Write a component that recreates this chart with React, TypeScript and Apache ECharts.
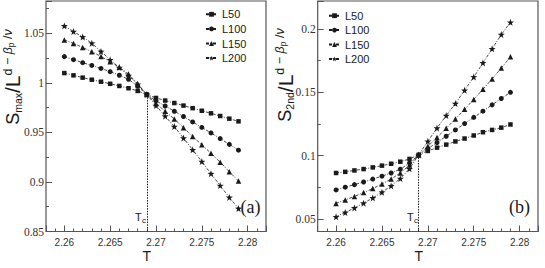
import React, { useEffect, useRef } from "react";
import * as echarts from "echarts";

// ---------- data ----------
const temps = [2.26, 2.261, 2.262, 2.263, 2.264, 2.265, 2.266, 2.267, 2.268, 2.269,
  2.27, 2.271, 2.272, 2.273, 2.274, 2.275, 2.276, 2.277, 2.278, 2.279];
const sizeNames = ["L50", "L100", "L150", "L200"];

const smaxL50 = [1.0098, 1.0075, 1.0052, 1.0031, 1.0011, 0.999, 0.9968, 0.9945, 0.9918, 0.9882,
  0.9847, 0.9821, 0.9796, 0.977, 0.9744, 0.9718, 0.9692, 0.9665, 0.9638, 0.9611];
const smaxL100 = [1.0264, 1.0233, 1.0203, 1.0175, 1.0145, 1.0112, 1.0076, 1.0035, 0.9965, 0.9882,
  0.9818, 0.9766, 0.9713, 0.966, 0.9605, 0.955, 0.9494, 0.9437, 0.9379, 0.932];
const smaxL150 = [1.0432, 1.0397, 1.0356, 1.0313, 1.0265, 1.0212, 1.0156, 1.0088, 0.999, 0.9882,
  0.9792, 0.9712, 0.9635, 0.9547, 0.9458, 0.9374, 0.9289, 0.9199, 0.9103, 0.9009];
const smaxL200 = [1.0574, 1.0517, 1.0462, 1.0399, 1.0316, 1.0232, 1.0153, 1.0072, 0.9985, 0.9882,
  0.977, 0.9663, 0.9558, 0.9442, 0.9324, 0.9205, 0.9083, 0.8963, 0.8844, 0.8732];

const s2ndL50 = [0.0862, 0.0871, 0.0882, 0.0893, 0.0906, 0.092, 0.0935, 0.0951, 0.0973, 0.1005,
  0.1036, 0.1062, 0.1086, 0.1111, 0.1134, 0.1158, 0.1184, 0.1202, 0.122, 0.1245];
const s2ndL100 = [0.0728, 0.075, 0.077, 0.0791, 0.0814, 0.0837, 0.0862, 0.0892, 0.094, 0.1005,
  0.1054, 0.1103, 0.1152, 0.1202, 0.1252, 0.1301, 0.135, 0.14, 0.145, 0.1499];
const s2ndL150 = [0.0622, 0.0649, 0.0677, 0.0707, 0.0739, 0.0775, 0.0815, 0.0862, 0.0925, 0.1005,
  0.1073, 0.1143, 0.1215, 0.1289, 0.1365, 0.1443, 0.1523, 0.1605, 0.169, 0.1779];
const s2ndL200 = [0.0516, 0.055, 0.0586, 0.0624, 0.0665, 0.071, 0.076, 0.0818, 0.0895, 0.1005,
  0.1112, 0.1217, 0.1315, 0.141, 0.1515, 0.162, 0.1731, 0.1842, 0.1955, 0.2052];

const tc = 2.269;
const crossA = 0.988;
const crossB = 0.1005;

const xRange = [2.258, 2.282];
const yRangeA = [0.85, 1.0825];
const yRangeB = [0.04, 0.222];
const xMajor = 0.005;
const xMinor = 0.001;
const yMajor = 0.05;
const yMinor = 0.025;

// ---------- styles ----------
const SANS = "'Liberation Sans', Arial, sans-serif";
const SERIF = "'Liberation Serif', 'Times New Roman', serif";
const INK = "#1a1a1a";
const FRAME = "#555";

const STAR = "path://M0,-10 L2.35,-3.24 L9.51,-3.09 L3.8,1.24 L5.88,8.09 L0,4 L-5.88,8.09 L-3.8,1.24 L-9.51,-3.09 L-2.35,-3.24 Z";
const symbols = ["rect", "circle", "triangle", STAR];
const symbolSizes = [4.5, 5, 5.5, 7];

function isMultiple(v: number, step: number) {
  const r = v / step;
  return Math.abs(r - Math.round(r)) < 1e-6;
}

function xLabel(v: number) {
  if (!isMultiple(v, xMajor)) return "";
  return String(+v.toFixed(3));
}
function yLabel(v: number) {
  if (!isMultiple(v, yMajor)) return "";
  return String(+v.toFixed(2));
}

function makeXAxes(gridIndex: number) {
  return [
    {
      type: "value", gridIndex, min: xRange[0], max: xRange[1],
      minInterval: xMajor, maxInterval: xMajor, splitNumber: 5,
      axisLine: { show: false },
      axisTick: { show: true, inside: true, length: 6, lineStyle: { color: FRAME, width: 1 } },
      axisLabel: { show: true, formatter: xLabel, fontFamily: SANS, fontSize: 10, color: "#333", margin: 6 },
      splitLine: { show: false },
    },
    {
      type: "value", gridIndex, min: xRange[0], max: xRange[1], interval: xMinor,
      position: "bottom",
      axisLine: { show: false },
      axisTick: { show: true, inside: true, length: 3, lineStyle: { color: FRAME, width: 1 } },
      axisLabel: { show: false },
      splitLine: { show: false },
    },
  ];
}

function makeYAxes(gridIndex: number, range: number[], useInterval: boolean, margin: number) {
  const major: any = {
    type: "value", gridIndex, min: range[0], max: range[1],
    axisLine: { show: false },
    axisTick: { show: true, inside: true, length: 6, lineStyle: { color: FRAME, width: 1 } },
    axisLabel: { show: true, formatter: yLabel, fontFamily: SERIF, fontSize: 11.5, color: "#333", margin },
    splitLine: { show: false },
  };
  const minor: any = {
    type: "value", gridIndex, min: range[0], max: range[1],
    position: "left",
    axisLine: { show: false },
    axisTick: { show: true, inside: true, length: 3, lineStyle: { color: FRAME, width: 1 } },
    axisLabel: { show: false },
    splitLine: { show: false },
  };
  if (useInterval) {
    major.interval = yMajor;
    minor.interval = yMinor;
  } else {
    major.minInterval = yMajor; major.maxInterval = yMajor;
    minor.minInterval = yMinor; minor.maxInterval = yMinor;
  }
  return [major, minor];
}

function makeSeries(panel: number, sets: number[][], cross: number, yMin: number) {
  return sets.map((vals, k) => ({
    type: "line",
    name: sizeNames[k],
    xAxisIndex: panel * 2,
    yAxisIndex: panel * 2,
    data: temps.map((t, i) => [t, vals[i]]),
    symbol: symbols[k],
    symbolSize: symbolSizes[k],
    itemStyle: { color: INK },
    lineStyle: { color: INK, width: 0.8, type: [3, 1.5, 1, 1.5] },
    z: 3,
    markLine: k === 0 ? {
      silent: true,
      symbol: ["none", "none"],
      label: { show: false },
      lineStyle: { color: INK, width: 1, type: [1.5, 1.2] },
      data: [[{ coord: [tc, cross] }, { coord: [tc, yMin] }]],
    } : undefined,
  }));
}

const titleRich = {
  m: { fontSize: 18, fontFamily: SANS, fill: INK, lineHeight: 26 },
  sb: { fontSize: 10.5, fontFamily: SANS, fill: INK, padding: [10, 0, 0, 0] },
  big: { fontSize: 21, fontFamily: SANS, fill: INK, lineHeight: 26 },
  sl: { fontSize: 21, fontFamily: SANS, fill: INK, lineHeight: 26 },
  sp: { fontSize: 12.5, fontFamily: SANS, fill: INK, padding: [0, 0, 10, 0] },
  spi: { fontSize: 12.5, fontFamily: SANS, fontStyle: "italic", fill: INK, padding: [0, 0, 10, 0] },
  ss: { fontSize: 8.5, fontFamily: SANS, fill: INK, padding: [0, 0, 4, 0] },
};

function yTitle(sub: string) {
  return `{m|S}{sb|${sub}}{sl|/}{big|L}{sp|d − }{spi|β}{ss|p}{sp| /}{spi|ν}`;
}

function tcLabel(x: number) {
  return [
    { type: "text", x, y: 222, style: { text: "T", font: `11px ${SANS}`, fill: INK, align: "left", verticalAlign: "bottom" } },
    { type: "text", x: x + 7, y: 224.5, style: { text: "c", font: `8px ${SANS}`, fill: INK, align: "left", verticalAlign: "bottom" } },
  ];
}

export default function App() {
  const ref = useRef<HTMLDivElement>(null);
  useEffect(() => {
    document.body.style.margin = "0";
    const chart = echarts.init(ref.current as HTMLDivElement, null, { renderer: "svg" });
    const option: any = {
      animation: false,
      backgroundColor: "#fff",
      grid: [
        { left: 46, top: 1, width: 220, height: 230.5, show: true, borderColor: FRAME, borderWidth: 1.2, containLabel: false },
        { left: 317.7, top: 1, width: 220.3, height: 230.5, show: true, borderColor: FRAME, borderWidth: 1.2, containLabel: false },
      ],
      xAxis: [...makeXAxes(0), ...makeXAxes(1)],
      yAxis: [...makeYAxes(0, yRangeA, true, 2), ...makeYAxes(1, yRangeB, false, 2)],
      legend: [
        {
          orient: "vertical", left: 200, top: 3.8, itemWidth: 11, itemHeight: 6, itemGap: 3.6,
          data: sizeNames, textStyle: { fontFamily: SANS, fontSize: 11, color: INK }, selectedMode: false,
        },
        {
          orient: "vertical", left: 323, top: 5.2, itemWidth: 11, itemHeight: 6, itemGap: 3.4,
          data: sizeNames, textStyle: { fontFamily: SANS, fontSize: 11, color: INK }, selectedMode: false,
        },
      ],
      series: [
        ...makeSeries(0, [smaxL50, smaxL100, smaxL150, smaxL200], crossA, yRangeA[0]),
        ...makeSeries(1, [s2ndL50, s2ndL100, s2ndL150, s2ndL200], crossB, yRangeB[0]),
      ],
      graphic: [
        { type: "text", x: 12.5, y: 77, rotation: Math.PI / 2, style: { text: yTitle("max"), rich: titleRich, align: "center", verticalAlign: "middle", fill: INK } },
        { type: "text", x: 285, y: 75, rotation: Math.PI / 2, style: { text: yTitle("2nd"), rich: titleRich, align: "center", verticalAlign: "middle", fill: INK } },
        { type: "text", x: 146.7, y: 255.5, style: { text: "T", font: `14px ${SANS}`, fill: INK, align: "center", verticalAlign: "middle" } },
        { type: "text", x: 418.7, y: 255.5, style: { text: "T", font: `14px ${SANS}`, fill: INK, align: "center", verticalAlign: "middle" } },
        ...tcLabel(135),
        ...tcLabel(407),
        { type: "text", x: 250.5, y: 207, style: { text: "(a)", font: `18px ${SERIF}`, fill: INK, align: "center", verticalAlign: "middle" } },
        { type: "text", x: 519.5, y: 207, style: { text: "(b)", font: `18px ${SERIF}`, fill: INK, align: "center", verticalAlign: "middle" } },
      ],
    };
    chart.setOption(option);
    return () => chart.dispose();
  }, []);
  return <div ref={ref} style={{ width: 545, height: 268 }} />;
}
